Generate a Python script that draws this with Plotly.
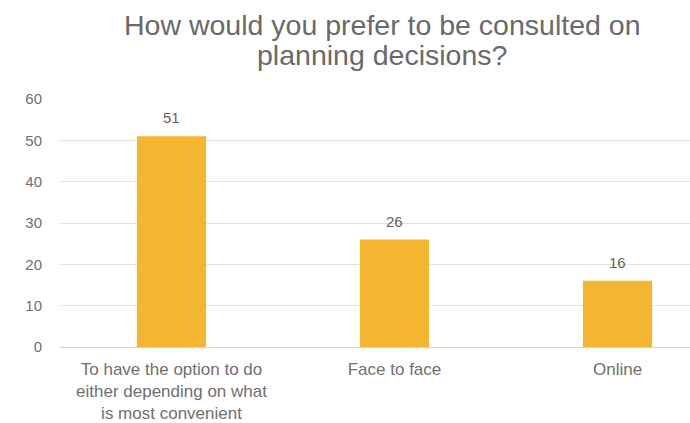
import plotly.graph_objects as go

categories = [
    "To have the option to do<br>either depending on what<br>is most convenient",
    "Face to face",
    "Online",
]
counts = [51, 26, 16]
y_ticks = [0, 10, 20, 30, 40, 50, 60]
title_lines = ["How would you prefer to be consulted on", "planning decisions?"]

bar_color = "#F4B631"
text_grey = "#5f5f5f"
tick_grey = "#6f6f6f"

x_pos = list(range(len(categories)))

fig = go.Figure(
    go.Bar(
        x=x_pos,
        y=counts,
        width=0.31,
        marker=dict(color=bar_color, line=dict(width=0)),
    )
)

# value labels sit a little above each bar
for xi, v in zip(x_pos, counts):
    fig.add_annotation(
        x=xi, y=v, text=str(v), showarrow=False,
        yanchor="bottom", yshift=8,
        font=dict(size=15, color=text_grey),
    )

# chart heading, two centred lines above the plot
for i, line in enumerate(title_lines):
    fig.add_annotation(
        xref="paper", yref="paper",
        x=0.511, y=1.298 - i * 0.121,
        xanchor="center", yanchor="middle",
        text=line, showarrow=False,
        font=dict(size=28.5, color="#6a6a6a"),
    )

fig.update_layout(
    width=690,
    height=423,
    margin=dict(l=60, r=0, t=99, b=76),
    paper_bgcolor="white",
    plot_bgcolor="white",
    font=dict(family="Liberation Sans, Arial, sans-serif", color=text_grey),
    showlegend=False,
)

fig.update_xaxes(
    tickmode="array",
    tickvals=x_pos,
    ticktext=categories,
    range=[-0.5, 2.325],
    showgrid=False,
    zeroline=False,
    showline=False,
    ticks="",
    tickangle=0,
    ticklabelstandoff=10,
    tickfont=dict(size=17, color=tick_grey),
)

fig.update_yaxes(
    range=[0, 60],
    tickvals=y_ticks,
    showgrid=True,
    gridcolor="#E3E3E3",
    gridwidth=1,
    zeroline=True,
    zerolinecolor="#D4D4D4",
    zerolinewidth=1,
    ticks="",
    ticklabelstandoff=17,
    tickfont=dict(size=15, color=tick_grey),
)

fig.write_html("out.html")
